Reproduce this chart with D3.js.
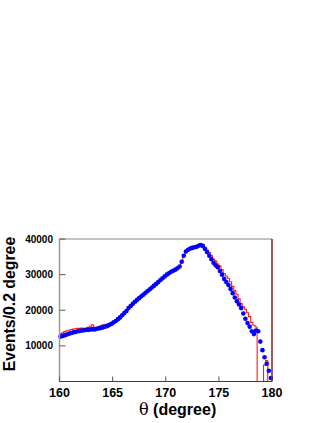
<!DOCTYPE html>
<html>
<head>
<meta charset="utf-8">
<script src="https://cdn.jsdelivr.net/npm/d3@7"></script>
<style>
  body { margin: 0; background: #fff; }
  text { font-family: "Liberation Sans", Arial, sans-serif; font-weight: bold; }
</style>
</head>
<body>
<div id="chart"></div>
<script>
const width = 327;
const height = 423;
const margin = { top: 239, right: 55, bottom: 41.5, left: 59.5 };

// bin width 0.2 degree, 160..180
const binStarts = d3.range(100).map(i => +(160 + i * 0.2).toFixed(1));
const binCenters = binStarts.map(d => +(d + 0.1).toFixed(1));

// data points (blue)
const dataValues = [
  12600, 12800, 13000, 13200, 13400, 13600, 13800, 13900, 14100, 14200,
  14300, 14400, 14500, 14500, 14600, 14700, 14600, 14800, 14900, 15000,
  15200, 15400, 15600, 15900, 16200, 16600, 17000, 17500, 18000, 18600,
  19200, 19800, 20600, 21200, 21800, 22400, 22900, 23400, 23900, 24400,
  24900, 25400, 25900, 26400, 26900, 27400, 27900, 28500, 29000, 29500,
  30000, 30400, 30800, 31100, 31400, 31800, 32300, 33600, 35300, 36500,
  37000, 37300, 37500, 37700, 37800, 38100, 38300, 38000, 37200, 36300,
  35300, 34300, 33300, 32600, 32100, 31000, 30000, 28800, 27900, 27100,
  26000, 24800, 23600, 22500, 21600, 20600, 19100, 17600, 16400, 15400,
  14100, 13300, 14300, 14100, 11200, 8800, 6800, 5000, 3000, 1000
];

// simulation histogram (red)
const mcValues = [
  13400, 13700, 14000, 14200, 14400, 14600, 14700, 14800, 14900, 14900,
  15000, 14900, 14800, 15200, 15500, 15900, 15200, 15000, 15400, 15700,
  15900, 16000, 16100, 16300, 16500, 16700, 17100, 17600, 18100, 18700,
  19300, 19900, 20600, 21200, 21800, 22400, 22900, 23400, 23900, 24400,
  24900, 25400, 25900, 26400, 26900, 27400, 27900, 28500, 29000, 29500,
  30000, 30400, 30800, 31100, 31400, 31800, 32300, 33600, 35300, 36500,
  37000, 37300, 37500, 37700, 37900, 38200, 38600, 38500, 37600, 36900,
  36200, 35300, 34300, 33800, 33000, 32400, 31400, 30300, 29600, 29000,
  28000, 26700, 25500, 24500, 23200, 21900, 21000, 20300, 19300, 18200,
  16600, 15800, 15300, 0, 0, 0, 4600, 5900, 0, 0
];

const xTicks = [160, 165, 170, 175, 180];
const yTicks = [10000, 20000, 30000, 40000];

const svg = d3.select("#chart")
  .append("svg")
  .attr("width", width)
  .attr("height", height);

const x = d3.scaleLinear().domain([160, 180]).range([margin.left, width - margin.right]);
const y = d3.scaleLinear().domain([0, 40000]).range([height - margin.bottom, margin.top]);

// histogram
const histPts = binStarts.map((b, i) => [b, mcValues[i]]);
histPts.push([180, mcValues[mcValues.length - 1]]);
const stepLine = d3.line()
  .x(d => x(d[0]))
  .y(d => y(d[1]))
  .curve(d3.curveStepAfter);

svg.append("path")
  .datum(histPts)
  .attr("d", stepLine)
  .style("fill", "none")
  .style("stroke", "#ff1a1a")
  .style("stroke-width", 1.1);

// data dots
svg.selectAll(".dot")
  .data(binCenters)
  .enter()
  .append("circle")
  .attr("class", "dot")
  .attr("cx", d => x(d))
  .attr("cy", (d, i) => y(dataValues[i]))
  .attr("r", 2.3)
  .style("fill", "#0000ff");

// frame
const x0 = x.range()[0], x1 = x.range()[1];
const y0 = y.range()[0], y1 = y.range()[1];
svg.append("line").attr("x1", x0).attr("x2", x1).attr("y1", y1).attr("y2", y1)
  .style("stroke", "#888").style("stroke-width", 1.2);
svg.append("line").attr("x1", x0).attr("x2", x0).attr("y1", y1).attr("y2", y0)
  .style("stroke", "#999").style("stroke-width", 1.5);
svg.append("line").attr("x1", x0).attr("x2", x1).attr("y1", y0).attr("y2", y0)
  .style("stroke", "#7a2020").style("stroke-width", 1.2);
svg.append("line").attr("x1", x1).attr("x2", x1).attr("y1", y1).attr("y2", y0)
  .style("stroke", "#7a2020").style("stroke-width", 1.5);

// y axis ticks + labels
yTicks.forEach(t => {
  svg.append("line")
    .attr("x1", x0).attr("x2", x0 + 6)
    .attr("y1", y(t)).attr("y2", y(t))
    .style("stroke", "#555").style("stroke-width", 1);
  svg.append("text")
    .attr("x", 53)
    .attr("y", y(t))
    .attr("dy", "0.36em")
    .style("text-anchor", "end")
    .style("font-size", "10px")
    .text(t);
});

// x axis ticks + labels
xTicks.forEach(t => {
  svg.append("line")
    .attr("x1", x(t)).attr("x2", x(t))
    .attr("y1", y0).attr("y2", y0 - 5)
    .style("stroke", "#555").style("stroke-width", 1);
  svg.append("text")
    .attr("x", x(t))
    .attr("y", 397)
    .style("text-anchor", "middle")
    .style("font-size", "12.5px")
    .text(t);
});

// axis titles
const xt = svg.append("text")
  .attr("x", 139)
  .attr("y", 415)
  .style("font-size", "16px");
xt.append("tspan").style("font-family", "'DejaVu Serif', serif").style("font-weight", "normal").text("θ");
xt.append("tspan").text(" (degree)");

svg.append("text")
  .attr("transform", "translate(15,304) rotate(-90)")
  .style("text-anchor", "middle")
  .style("font-size", "15.8px")
  .text("Events/0.2 degree");
</script>
</body>
</html>
